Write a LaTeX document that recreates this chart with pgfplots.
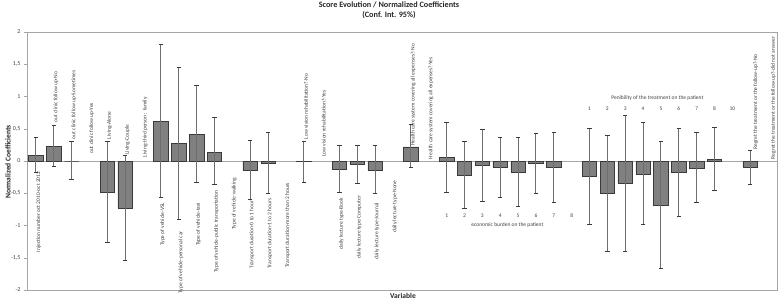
\documentclass[border=0pt]{standalone}
\usepackage{fontspec}
\setmainfont{Carlito}
\usepackage{pgfplots}
\usepackage{pgfplotstable}
\pgfplotsset{compat=1.18}
\definecolor{barfill}{HTML}{808080}
\definecolor{bardraw}{HTML}{3A3A3A}
\definecolor{errc}{HTML}{6E6E6E}
\definecolor{framec}{HTML}{A6A6A6}
\definecolor{labc}{HTML}{404040}
\pgfplotstableread{
x y ep em
1 0.09 0.27 0.26
2 0.23 0.32 0.32
3 0.00 0.31 0.29
5 -0.48 0.79 0.78
6 -0.74 0.82 0.80
8 0.61 1.20 1.18
9 0.27 1.18 1.17
10 0.41 0.76 0.75
11 0.13 0.55 0.49
13 -0.14 0.46 0.45
14 -0.03 0.48 0.48
16 -0.01 0.32 0.32
18 -0.13 0.37 0.35
19 -0.05 0.29 0.30
20 -0.15 0.39 0.36
22 0.22 0.35 0.32
24 0.05 0.54 0.53
25 -0.22 0.52 0.51
26 -0.07 0.56 0.56
27 -0.10 0.47 0.46
28 -0.17 0.54 0.54
29 -0.04 0.46 0.47
30 -0.10 0.55 0.54
32 -0.24 0.75 0.75
33 -0.50 0.89 0.90
34 -0.34 1.04 1.07
35 -0.20 0.79 0.78
36 -0.68 0.98 0.99
37 -0.17 0.68 0.69
38 -0.11 0.56 0.54
39 0.03 0.49 0.49
41 -0.09 0.26 0.27
}\coefdata
\begin{document}
\begin{tikzpicture}[
  lab/.style={font=\fontsize{5.5}{6}\selectfont, text=labc, rotate=90, inner sep=0.5pt},
  grp/.style={font=\fontsize{5.5}{6}\selectfont, text=labc, inner sep=0pt}]
\useasboundingbox (0,0) rectangle (778pt,300pt);
\node[font=\bfseries\fontsize{8.2}{10}\selectfont, align=center, text=black!85] at (389pt,289.5pt) {Score Evolution / Normalized Coefficients\\(Conf. Int. 95\%)};
\node[font=\bfseries\fontsize{7.5}{8}\selectfont, rotate=90, text=black!85] at (8pt,138pt) {Normalized Coefficients};
\node[font=\bfseries\fontsize{7.5}{8}\selectfont, text=black!85] at (403pt,4.5pt) {Variable};
\begin{axis}[
  at={(27pt,10pt)}, anchor=south west, scale only axis,
  width=750pt, height=258pt,
  xmin=0.5, xmax=42.5, ymin=-2, ymax=2,
  xtick=\empty,
  ytick={-2,-1.5,-1,-0.5,0,0.5,1,1.5,2},
  yticklabels={-2,{-1,5},-1,{-0,5},0,{0,5},1,{1,5},2},
  ytick pos=left, tick align=outside, major tick length=3pt,
  tick style={framec},
  axis line style={framec},
  y tick label style={font=\fontsize{6}{7}\selectfont, text=labc},
  clip=false,
]
\draw[framec] (axis cs:0.5,0) -- (axis cs:42.5,0);
\addplot[ybar, bar width=14.5pt, fill=barfill, draw=bardraw, line width=0.6pt,
  error bars/.cd, y dir=both, y explicit,
  error bar style={draw=errc, line width=0.9pt},
  error mark options={rotate=90, mark size=2.2pt, draw=bardraw, line width=0.9pt}]
  table[x=x, y=y, y error plus=ep, y error minus=em] {\coefdata};
% labels above
\node[lab, anchor=west] at (axis cs:2.12,0.59) {out clinic follow up-No};
\node[lab, anchor=west] at (axis cs:3.12,0.33) {out clinic follow up-Sometimes};
\node[lab, anchor=west] at (axis cs:4.12,0.10) {out clinic follow up-Yes};
\node[lab, anchor=west] at (axis cs:5.12,0.33) {Living-Alone};
\node[lab, anchor=west] at (axis cs:6.12,0.09) {Living-Couple};
\node[lab, anchor=west] at (axis cs:7.12,0.05) {Living-third person : family};
\node[lab, anchor=west] at (axis cs:16.12,0.33) {Low vision rehabilitation?-No};
\node[lab, anchor=west] at (axis cs:17.12,0.06) {Low vision rehabilitation?-Yes};
\node[lab, anchor=west] at (axis cs:22.12,0.23) {Health care system covering all expenses?-No};
\node[lab, anchor=west] at (axis cs:23.12,0.02) {Health care system covering all expenses?-Yes};
\node[lab, anchor=west] at (axis cs:41.3,0.17) {Regret the treatment or the follow-up?-No};
\node[lab, anchor=west] at (axis cs:42.3,0.02) {Regret the treatment or the follow-up?-did not answer};
% labels below
\node[lab, anchor=east] at (axis cs:1.15,-0.155) {Injection number oct 2010-oct 2012};
\node[lab, anchor=east] at (axis cs:8.1,-0.64) {Type of vehicle-VSL};
\node[lab, anchor=east] at (axis cs:9.12,-1.08) {Type of vehicle-personal car};
\node[lab, anchor=east] at (axis cs:10.1,-0.64) {Type of vehicle-taxi};
\node[lab, anchor=east] at (axis cs:11.1,-0.45) {Type of vehicle-public transportation};
\node[lab, anchor=east] at (axis cs:12.1,-0.25) {Type of vehicle-walking};
\node[lab, anchor=east] at (axis cs:13.1,-0.60) {Transport duration-0 to 1 hour};
\node[lab, anchor=east] at (axis cs:14.1,-0.57) {Transport duration-1 to 2 hours};
\node[lab, anchor=east] at (axis cs:15.1,-0.33) {Transport duration-more than 2 hours};
\node[lab, anchor=east] at (axis cs:18.1,-0.56) {daily lecture type-Book};
\node[lab, anchor=east] at (axis cs:19.1,-0.53) {daily lecture type-Computer};
\node[lab, anchor=east] at (axis cs:20.1,-0.64) {daily lecture type-Journal};
\node[lab, anchor=east] at (axis cs:21.1,-0.29) {daily lecture type-None};
% group labels
\node[grp] at (axis cs:24,-0.85) {1};
\node[grp] at (axis cs:25,-0.85) {2};
\node[grp] at (axis cs:26,-0.85) {3};
\node[grp] at (axis cs:27,-0.85) {4};
\node[grp] at (axis cs:28,-0.85) {5};
\node[grp] at (axis cs:29,-0.85) {6};
\node[grp] at (axis cs:30,-0.85) {7};
\node[grp] at (axis cs:31,-0.85) {8};
\node[grp] at (axis cs:27.4,-0.99) {economic burden on the patient};
\node[grp] at (axis cs:32,0.81) {1};
\node[grp] at (axis cs:33,0.81) {2};
\node[grp] at (axis cs:34,0.81) {3};
\node[grp] at (axis cs:35,0.81) {4};
\node[grp] at (axis cs:36,0.81) {5};
\node[grp] at (axis cs:37,0.81) {6};
\node[grp] at (axis cs:38,0.81) {7};
\node[grp] at (axis cs:39,0.81) {8};
\node[grp] at (axis cs:40,0.81) {10};
\node[grp] at (axis cs:35.8,0.98) {Penibility of the treatment on the patient};
\end{axis}
\end{tikzpicture}
\end{document}
